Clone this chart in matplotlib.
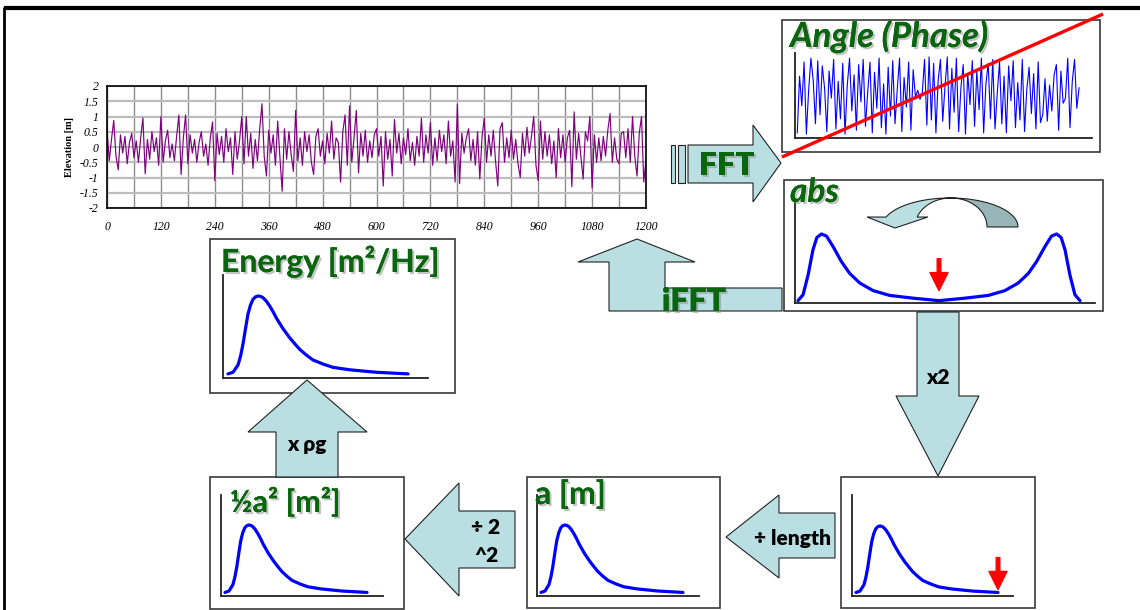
import matplotlib
matplotlib.use("Agg")
import matplotlib.pyplot as plt
import matplotlib.patheffects as pe
from matplotlib.patches import Rectangle, Polygon
import numpy as np

W, H = 1140, 610

# sea surface elevation record, one value every 5 s
elev_t = list(range(0, 1201, 5))
elev = [
    0.6, -0.45, 0.25, 0.87, -0.3, -0.75, 0.4, -0.2, 0.35, -0.55,
    0.15, 0.45, -0.35, 0.2, -0.5, 0.3, 0.95, -0.88, 0.25, -0.4,
    0.5, -0.15, 0.3, -0.6, 1.0, -0.5, 0.2, 0.55, -0.35, 0.1,
    -0.45, 0.35, 1.05, -0.9, 0.3, 1.05, -0.55, 0.4, -0.2, 0.25,
    -0.5, 0.15, 0.5, -0.3, 0.1, -0.6, 0.3, 0.82, -1.1, 0.45,
    -0.25, 0.35, -0.5, 0.6, -0.15, 0.3, -0.9, 0.5, -0.4, 0.2,
    1.0, -0.55, 1.0, -0.3, 0.45, -0.7, 0.25, -0.45, 0.6, 1.42,
    -0.3, -0.95, 0.55, -0.2, 0.4, -0.6, 0.85, -0.35, -1.45, 0.6,
    -0.4, 0.5, -0.25, -0.8, 1.2, -0.45, 0.3, -0.6, 0.5, -0.15,
    0.4, -0.5, -0.9, 0.35, 0.6, -0.3, 0.2, -0.55, 0.45, -0.2,
    0.85, -0.4, 0.3, 0.15, -1.15, 0.5, 1.05, -0.6, 1.35, -0.5,
    0.3, 1.2, -0.85, 0.45, -0.3, 0.55, -0.5, 0.2, -0.35, 0.4,
    0.6, -0.3, 0.35, -1.28, 0.5, -0.4, 0.25, -0.95, 0.9, -0.2,
    0.45, -0.55, 0.3, -0.25, 0.6, -0.45, 0.15, -0.6, 0.35, -0.3,
    0.95, -0.5, 0.4, -0.2, 0.8, -0.6, 0.3, -0.45, 0.55, -0.15,
    0.4, -0.55, 0.85, -0.3, 0.2, -1.15, 1.4, -1.2, 0.45, -0.2,
    0.3, 0.6, -0.45, 0.25, -0.6, 0.5, -1.05, 0.35, 0.95, -0.5,
    0.4, -0.3, 0.55, -0.45, -1.28, 0.6, 0.8, -0.5, 0.3, -0.35,
    0.55, -0.4, 0.25, -0.55, -1.0, 0.45, -0.3, 0.65, -0.2, 0.35,
    1.0, -0.6, -1.1, 0.85, -0.4, 0.5, -0.3, 0.4, -0.55, 0.2,
    -1.0, 0.6, -0.35, 0.4, -0.5, 0.3, 0.55, -1.3, 1.15, -0.4,
    0.45, -0.3, -1.05, 0.5, 0.2, 1.0, -1.35, 0.4, -0.5, 0.3,
    -0.45, 0.35, -0.3, 0.55, 1.1, -0.5, 0.3, -0.4, -0.55, 0.45,
    0.5, -0.35, 0.6, -0.5, 1.0, -0.3, -0.95, 0.45, 1.0, -1.15,
    -0.4,
]
elev_xticks = [0, 120, 240, 360, 480, 600, 720, 840, 960, 1080, 1200]
elev_yticks = [-2, -1.5, -1, -0.5, 0, 0.5, 1, 1.5, 2]

# phase angle of the FFT (rad)
phase = [
    -2.9, 1.5, -0.8, 2.6, -3.0, 0.4, 2.9, 1.2, -2.2, 2.7,
    -1.5, 2.3, 0.6, -2.8, 1.9, -0.2, 2.8, -2.6, 1.1, -1.8,
    2.5, -3.0, 0.8, 2.9, -1.2, 1.6, -2.7, 2.4, -0.5, 2.8,
    -2.4, 0.3, 2.6, -2.9, 1.8, -1.0, 2.9, -2.5, 0.9, -3.0,
    2.2, -1.6, 2.7, -2.2, 0.5, 2.9, -2.8, 1.4, -0.9, 2.6,
    -2.7, 2.0, -0.1, 0.4, -0.3, 0.2, 2.8, -2.3, 3.0, -1.9,
    2.5, -2.9, 1.2, 2.8, -2.0, 0.7, 3.0, -2.6, 2.1, -1.3,
    2.9, -2.8, 0.6, 2.4, -3.0, 1.7, -0.7, 2.7, -2.4, 1.9,
    -1.1, 2.9, -2.9, 0.9, 2.5, -1.8, 2.8, -2.6, 0.2, 2.6,
    -2.2, 1.5, -2.9, 2.3, -0.4, 2.7, -2.5, 1.0, -1.9, 2.8,
    -2.8, 0.5, 2.2, -1.4, 1.7, -2.6, 2.6, -2.1, -1.5, 1.3,
    -2.0, 0.8, -1.2, 1.6, 2.4, -2.7, 1.9, -0.6, -0.2, 2.9,
    -2.5, 1.1, 2.8, -1.0, 0.6,
]

# two-sided amplitude of the FFT (normalised)
abs_f = [0, 0.018, 0.036, 0.053, 0.067, 0.083, 0.101, 0.124, 0.154, 0.183,
         0.219, 0.266, 0.325, 0.408, 0.5, 0.592, 0.675, 0.734, 0.781, 0.817,
         0.846, 0.876, 0.899, 0.917, 0.933, 0.947, 0.964, 0.982, 1.0]
abs_a = [0.034, 0.12, 0.41, 0.77, 0.95, 1.0, 0.97, 0.82, 0.60, 0.43,
         0.29, 0.18, 0.11, 0.07, 0.034, 0.07, 0.11, 0.18, 0.29, 0.43,
         0.60, 0.82, 0.97, 1.0, 0.95, 0.77, 0.41, 0.12, 0.034]

# one-sided spectrum shape (normalised)
spec_f = [0.0, 0.028, 0.056, 0.07, 0.083, 0.097, 0.111, 0.125, 0.139, 0.153,
          0.167, 0.181, 0.194, 0.212, 0.231, 0.25, 0.269, 0.306, 0.343,
          0.37, 0.398, 0.435, 0.472, 0.528, 0.583, 0.676, 0.824, 1.0]
spec_s = [0.05, 0.07, 0.16, 0.27, 0.41, 0.6, 0.78, 0.89, 0.96, 0.99,
          1.0, 0.995, 0.98, 0.94, 0.88, 0.81, 0.73, 0.60, 0.49,
          0.42, 0.35, 0.28, 0.22, 0.17, 0.13, 0.10, 0.07, 0.05]

ARROW_FILL = '#b9dfe3'
GREEN = '#0a650f'
BOX_EDGE = '#3a3a3a'
TITLE_FONT = ['Lato', 'DejaVu Sans']

fig = plt.figure(figsize=(W / 100, H / 100), dpi=100)


def px_axes(left, top, right, bottom):
    return fig.add_axes([left / W, 1 - bottom / H, (right - left) / W, (bottom - top) / H])


def overlay():
    ax = fig.add_axes([0, 0, 1, 1])
    ax.set_xlim(0, W)
    ax.set_ylim(H, 0)
    ax.axis('off')
    ax.patch.set_alpha(0)
    return ax


# background layer: frame, boxes, block arrows
bg = overlay()
bg.plot([4, W], [8, 8], color='black', lw=3, solid_capstyle='butt')
bg.plot([4, 4], [7, H], color='black', lw=2, solid_capstyle='butt')

boxes = [(782, 20, 1100, 152), (784, 180, 1103, 311), (210, 239, 455, 393),
         (210, 477, 404, 609), (527, 477, 720, 608), (841, 477, 1035, 608)]
for l, t, r, b in boxes:
    bg.add_patch(Rectangle((l, t), r - l, b - t, facecolor='white',
                           edgecolor=BOX_EDGE, lw=1.2))

arrows = [
    [(688, 145), (753, 145), (753, 125), (781, 163), (753, 202), (753, 183), (688, 183)],
    [(609, 311), (782, 311), (782, 288), (665, 288), (665, 262), (695, 262),
     (637, 239), (578, 262), (609, 262)],
    [(917, 312), (959, 312), (959, 396), (979, 396), (938, 476), (896, 396), (917, 396)],
    [(835, 513), (779, 513), (779, 495), (726, 537), (779, 578), (779, 558), (835, 558)],
    [(515, 511), (459, 511), (459, 483), (405, 539), (459, 596), (459, 568), (515, 568)],
    [(276, 477), (276, 432), (248, 432), (307, 380), (367, 432), (338, 432), (338, 477)],
]
for pts in arrows:
    bg.add_patch(Polygon(pts, closed=True, facecolor=ARROW_FILL,
                         edgecolor='#222222', lw=0.8))
bg.add_patch(Rectangle((671, 145), 4, 38, facecolor=ARROW_FILL, edgecolor='#222222', lw=0.8))
bg.add_patch(Rectangle((678, 145), 7, 38, facecolor=ARROW_FILL, edgecolor='#222222', lw=0.8))

# curved "mirror" arrow inside the abs box
t_r = np.linspace(0, np.pi / 2, 40)
right_part = list(zip(950 + 68 * np.cos(t_r), 227 - 29 * np.sin(t_r))) + \
    list(zip(951 + 36 * np.cos(t_r[::-1]), 227 - 29 * np.sin(t_r[::-1])))
bg.add_patch(Polygon(right_part, closed=True, facecolor='#98b5b8',
                     edgecolor='#222222', lw=0.8, zorder=3))
t_l = np.linspace(np.pi / 2, np.radians(160), 40)
left_part = list(zip(950 + 68 * np.cos(t_l), 227 - 29 * np.sin(t_l))) + \
    [(867, 217), (895, 228), (928, 217)] + \
    list(zip(951 + 36 * np.cos(t_l[::-1]), 227 - 29 * np.sin(t_l[::-1])))
bg.add_patch(Polygon(left_part, closed=True, facecolor=ARROW_FILL,
                     edgecolor='#222222', lw=0.8, zorder=4))

# elevation time series
ts = px_axes(107, 86, 646, 208)
ts.plot(elev_t, elev, color='#800080', lw=0.85)
ts.set_xlim(0, 1200)
ts.set_ylim(-2, 2)
ts.set_xticks(elev_xticks)
ts.set_yticks(elev_yticks)
ts.set_xticks(range(0, 1201, 60), minor=True)
ts.set_yticklabels([f'{v:g}' for v in elev_yticks])
ts.grid(True, axis='x', which='both', color='#8c8c8c', lw=1.0)
ts.grid(True, axis='y', which='major', color='#bdbdbd', lw=1.6)
ts.set_axisbelow(True)
ts.tick_params(length=0, which='both', pad=9)
for lab in ts.get_xticklabels() + ts.get_yticklabels():
    lab.set_fontfamily('Liberation Serif')
    lab.set_fontstyle('italic')
    lab.set_fontsize(8.5)
ts.tick_params(axis='y', pad=6)
ts.set_ylabel('Elevation [m]', family='Liberation Serif', fontweight='bold',
              fontsize=7.5, labelpad=4)
for s in ts.spines.values():
    s.set_color('black')
    s.set_linewidth(1.2)


def curve_panel(left, top, right, bottom, x0, x1, ypeak, xs, ys, lw=2.3):
    ax = px_axes(left, top, right, bottom)
    ax.plot(xs, ys, color='#0000ff', lw=lw, solid_capstyle='round')
    ax.set_xlim((left - x0) / (x1 - x0), (right - x0) / (x1 - x0))
    ax.set_ylim(0, (bottom - top) / (bottom - ypeak))
    ax.patch.set_alpha(0)
    ax.set_xticks([])
    ax.set_yticks([])
    for side in ('top', 'right'):
        ax.spines[side].set_visible(False)
    for side in ('left', 'bottom'):
        ax.spines[side].set_color('#222222')
        ax.spines[side].set_linewidth(1.3)
    return ax


def red_arrow(ax, x, y, gap_px):
    # tip sits gap_px above the data point, shaft 32 px long
    y0, y1 = ax.get_ylim()
    h_px = ax.get_position().height * H
    tip = y + gap_px * (y1 - y0) / h_px
    ax.annotate('', xy=(x, tip), xytext=(0, 23), textcoords='offset points',
                xycoords='data', annotation_clip=False,
                arrowprops=dict(facecolor='red', edgecolor='red', width=2.6,
                                headwidth=13, headlength=13))


# phase panel
ph = px_axes(795, 53, 1092, 138)
ph.plot(np.arange(len(phase)), phase, color='#0000ff', lw=0.8)
ph.set_xlim(-1, (len(phase) - 1) * (1092 - 795) / (1081 - 797))
ph.set_ylim(-3.3, 3.3)
ph.patch.set_alpha(0)
ph.set_xticks([])
ph.set_yticks([])
for side in ('top', 'right'):
    ph.spines[side].set_visible(False)
for side in ('left', 'bottom'):
    ph.spines[side].set_color('#222222')
    ph.spines[side].set_linewidth(1.3)

ab = curve_panel(795, 203, 1095, 303, 798, 1080, 234, abs_f, abs_a)
red_arrow(ab, 0.5, abs_a[14], 10)

curve_panel(223, 275, 428, 378, 228, 408, 296, spec_f, spec_s)
curve_panel(221, 495, 383, 596, 225, 367, 525, spec_f, spec_s)
curve_panel(537, 495, 699, 596, 541, 683, 525, spec_f, spec_s)
br = curve_panel(852, 495, 1013, 596, 856, 998, 526, spec_f, spec_s)
red_arrow(br, spec_f[-1], spec_s[-1], 3)

# foreground layer: titles and labels
fg = overlay()
fg.plot([782, 1103], [157, 14], color='#ff0000', lw=2.4, solid_capstyle='butt')

shadow = [pe.withSimplePatchShadow(offset=(1.5, -1.5), shadow_rgbFace='#8a8a8a', alpha=0.5),
          pe.Normal()]


def title(x, y, s, size, style='normal', ha='left', weight='bold'):
    fg.text(x, y, s, color=GREEN, fontsize=size, fontweight=weight, fontstyle=style,
            family=TITLE_FONT, ha=ha, va='baseline', path_effects=shadow)


title(790, 47, 'Angle (Phase)', 25, 'italic')
title(790, 202, 'abs', 24, 'italic')
title(727, 175, 'FFT', 23, ha='center', weight='heavy')
title(694, 311, 'iFFT', 23, ha='center', weight='heavy')
title(221, 272, 'Energy [m²/Hz]', 23)
title(230, 512, '½a² [m²]', 22)
title(535, 504, 'a [m]', 23)


def label(x, y, s):
    fg.text(x, y, s, color='black', fontsize=15, fontweight='heavy', family=TITLE_FONT,
            ha='center', va='center')


label(938, 378, 'x2')
label(793, 538, '÷ length')
label(307, 445, 'x ρg')
label(486, 527, '÷ 2')
label(486, 556, '^2')

fig.savefig('out.png', dpi=100)
